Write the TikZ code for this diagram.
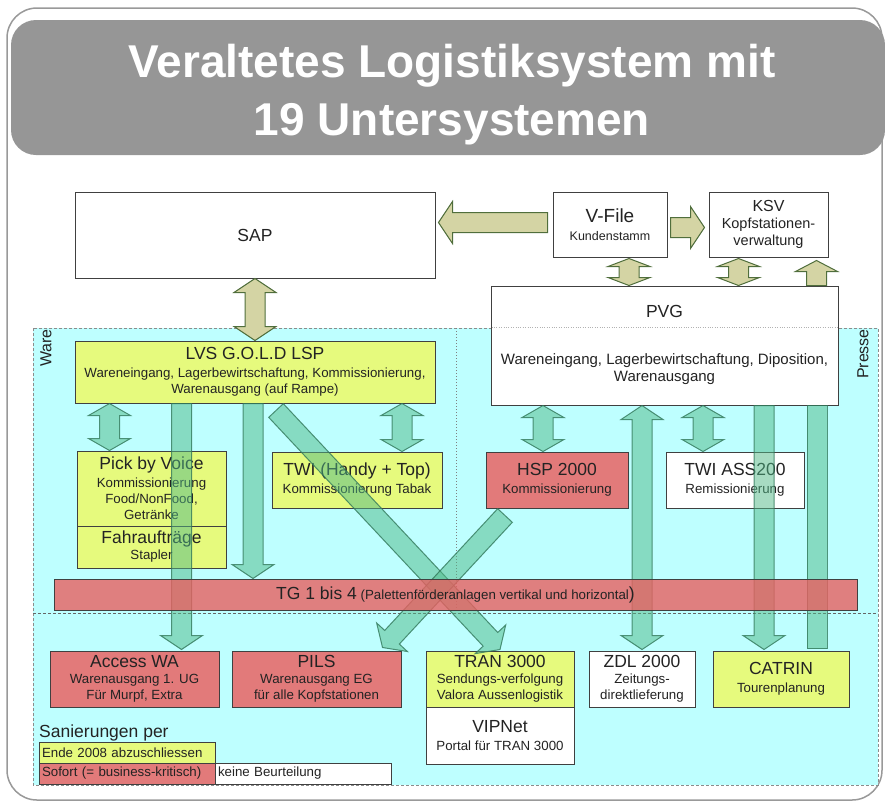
\documentclass[tikz,border=0pt]{standalone}
\usepackage{fontspec}
\setmainfont{Liberation Sans}
\usetikzlibrary{calc, positioning}

\definecolor{bgcyan}{RGB}{190,255,255}
\definecolor{boxyellow}{RGB}{230,250,125}
\definecolor{boxred}{RGB}{226,122,122}
\definecolor{tgred}{RGB}{232,95,95}
\definecolor{khakifill}{RGB}{212,212,164}
\definecolor{khakiline}{RGB}{80,110,60}
\definecolor{arrowgreen}{RGB}{80,185,135}
\definecolor{arrowline}{RGB}{50,120,90}
\definecolor{titlegray}{RGB}{150,150,150}
\definecolor{textgray}{RGB}{35,35,35}

\pgfdeclarelayer{front}
\pgfsetlayers{main,front}

\newcommand{\systitle}{\fontsize{17.5}{20}\selectfont}
\newcommand{\sysdesc}{\fontsize{13.3}{16}\selectfont}
\newcommand{\fabody}{10pt}
\newcommand{\fahead}{21pt}
\newcommand{\falen}{14pt}

\tikzstyle{sysbox} = [rectangle, draw=black!75, line width=1pt, text=textgray, align=center, font=\sysdesc, inner sep=2pt]
\tikzstyle{yellowbox} = [sysbox, fill=boxyellow]
\tikzstyle{redbox} = [sysbox, fill=boxred]
\tikzstyle{whitebox} = [sysbox, fill=white]
\tikzstyle{legendbox} = [text width=170pt, align=left, minimum height=21pt, inner sep=3pt]
\tikzstyle{arealabel} = [rotate=90, text=textgray, font=\fontsize{16}{18}\selectfont]
\tikzstyle{khakiarrow} = [fill=khakifill, draw=khakiline, line width=1pt, line join=miter]
\tikzstyle{greenarrow} = [fill=arrowgreen, fill opacity=0.5, draw=arrowline, draw opacity=0.8, line width=1pt]

% block arrows: [style]{from}{to}
\newcommand{\fatarrow}[3][khakiarrow]{%
  \coordinate (fa-a) at (#2);
  \coordinate (fa-b) at (#3);
  \coordinate (fa-c) at ($(fa-b)!\falen!(fa-a)$);
  \filldraw[#1] ($(fa-a)!\fabody!90:(fa-b)$) -- ($(fa-c)!\fabody!-90:(fa-a)$) -- ($(fa-c)!\fahead!-90:(fa-a)$) -- (fa-b)
    -- ($(fa-c)!\fahead!90:(fa-a)$) -- ($(fa-c)!\fabody!90:(fa-a)$) -- ($(fa-a)!\fabody!-90:(fa-b)$) -- cycle;
}
\newcommand{\fatdouble}[3][khakiarrow]{%
  \coordinate (fa-a) at (#2);
  \coordinate (fa-b) at (#3);
  \coordinate (fa-c) at ($(fa-a)!\falen!(fa-b)$);
  \coordinate (fa-d) at ($(fa-b)!\falen!(fa-a)$);
  \filldraw[#1] (fa-a) -- ($(fa-c)!\fahead!90:(fa-b)$) -- ($(fa-c)!\fabody!90:(fa-b)$) -- ($(fa-d)!\fabody!-90:(fa-a)$)
    -- ($(fa-d)!\fahead!-90:(fa-a)$) -- (fa-b) -- ($(fa-d)!\fahead!90:(fa-a)$) -- ($(fa-d)!\fabody!90:(fa-a)$)
    -- ($(fa-c)!\fabody!-90:(fa-b)$) -- ($(fa-c)!\fahead!-90:(fa-b)$) -- cycle;
}
\newcommand{\fatbar}[3][greenarrow]{%
  \coordinate (fa-a) at (#2);
  \coordinate (fa-b) at (#3);
  \filldraw[#1] ($(fa-a)!\fabody!90:(fa-b)$) -- ($(fa-b)!\fabody!-90:(fa-a)$) -- ($(fa-b)!\fabody!90:(fa-a)$) -- ($(fa-a)!\fabody!-90:(fa-b)$) -- cycle;
}

\begin{document}
\begin{tikzpicture}[x=1pt, y=-1pt]
    \useasboundingbox (0,0) rectangle (885,804);

    % frame and title
    \draw[black!40, line width=1.5pt, rounded corners=30pt] (7,8) rectangle (882,800);
    \node (titlebar) [fill=titlegray, rounded corners=25pt, minimum width=874pt, minimum height=135pt] at (448,87.5) {};
    \node (title) [text=white, font=\bfseries\fontsize{46}{58}\selectfont, align=center] at (452,95) {Veraltetes Logistiksystem mit\\19 Untersystemen};

    % Ware / Presse area
    \filldraw[fill=bgcyan, draw=black!45, densely dashed, line width=0.6pt] (33,328) rectangle (878,785);
    \draw[black!60, densely dashed, line width=0.8pt] (33,613) -- (878,613);
    \draw[black!50, dotted, line width=1pt] (456,328) -- (456,613);
    \node (warelabel) [arealabel] at (46,348) {Ware};
    \node (presselabel) [arealabel] at (863,354) {Presse};

    % top systems
    \node (sap) [whitebox, minimum width=360pt, minimum height=86pt] at (255,235) {{\systitle SAP}};
    \node (vfile) [whitebox, minimum width=114pt, minimum height=65pt] at (610,224.5) {{\fontsize{19}{22}\selectfont V-File}\\[2pt]{\fontsize{12.5}{14}\selectfont Kundenstamm}};
    \node (ksv) [whitebox, minimum width=119pt, minimum height=65pt, font=\fontsize{14.5}{17}\selectfont] at (768.5,224.5) {{\fontsize{16}{18}\selectfont KSV}\\ Kopfstationen-\\ verwaltung};
    \node (pvg) [whitebox, minimum width=347pt, minimum height=119pt] at (664.5,345.5) {};
    \node (pvgname) [text=textgray, font=\systitle] at ($(pvg.north)+(0,-26pt)$) {PVG};
    \node (pvgtasks) [text=textgray, align=center, font=\fontsize{15}{17}\selectfont] at ($(pvg.north)+(0,-84pt)$) {Wareneingang, Lagerbewirtschaftung, Diposition,\\ Warenausgang};
    \draw[black!30, dotted] ($(pvg.north west)+(1pt,-42pt)$) -- ($(pvg.north east)+(-1pt,-42pt)$);

    % Ware
    \node (lvs) [yellowbox, minimum width=360pt, minimum height=62pt] at (255,372) {{\systitle LVS G.O.L.D LSP}\\[2pt] Wareneingang, Lagerbewirtschaftung, Kommissionierung,\\ Warenausgang (auf Rampe)};
    \node (pbv) [yellowbox, minimum width=149pt, minimum height=75pt] at (151.5,488.5) {{\systitle Pick by Voice}\\[2pt] Kommissionierung\\ Food/NonFood,\\ Getränke};
    \node (fahr) [yellowbox, minimum width=149pt, minimum height=42pt, below=-1pt of pbv] {{\systitle Fahraufträge}\\ Stapler};
    \node (twi) [yellowbox, minimum width=170pt, minimum height=56pt] at (357,480) {{\systitle TWI (Handy + Top)}\\[2pt] Kommissionierung Tabak};

    % Presse
    \node (hsp) [redbox, minimum width=142pt, minimum height=56pt] at (557,480) {{\systitle HSP 2000}\\[2pt] Kommissionierung};
    \node (twiass) [whitebox, minimum width=138pt, minimum height=56pt] at (735,480) {{\systitle TWI ASS200}\\[2pt] Remissionierung};

    % Warenausgang
    \node (access) [redbox, minimum width=169pt, minimum height=56pt] at (134.5,679) {{\systitle Access WA}\\ Warenausgang 1. UG\\ Für Murpf, Extra};
    \node (pils) [redbox, minimum width=169pt, minimum height=56pt] at (316.5,679) {{\systitle PILS}\\ Warenausgang EG\\ für alle Kopfstationen};
    \node (tran) [yellowbox, minimum width=148pt, minimum height=56pt] at (500,679) {{\systitle TRAN 3000}\\ Sendungs-verfolgung\\ Valora Aussenlogistik};
    \node (vipnet) [whitebox, minimum width=148pt, minimum height=57pt, below=-1pt of tran] {{\systitle VIPNet}\\[2pt] Portal für TRAN 3000};
    \node (zdl) [whitebox, minimum width=106pt, minimum height=56pt] at (642,679) {{\systitle ZDL 2000}\\ Zeitungs-\\ direktlieferung};
    \node (catrin) [yellowbox, minimum width=136pt, minimum height=56pt] at (781,679) {{\systitle CATRIN}\\[2pt] Tourenplanung};

    % legend
    \node (ende) [yellowbox, legendbox] at (127,752.5) {Ende 2008 abzuschliessen};
    \node (sofort) [redbox, legendbox, below=-1pt of ende] {Sofort (= business-kritisch)};
    \node (keine) [whitebox, legendbox, right=-1pt of sofort] {keine Beurteilung};
    \node (legendtitle) [anchor=south west, inner sep=0.5pt, text=textgray, font=\systitle] at (ende.north west) {Sanierungen per};

    % TG bar in front of the arrows
    \begin{pgfonlayer}{front}
    \node (tg) [redbox, fill=tgred, fill opacity=0.8, text opacity=1, minimum width=803pt, minimum height=31pt] at (455.5,594.5) {{\systitle TG 1 bis 4} (Palettenförderanlagen vertikal und horizontal{\systitle )}};
    \end{pgfonlayer}

    % khaki arrows
    \coordinate (sapin) at (vfile.west -| sap.east);
    \fatarrow{[xshift=-5pt,yshift=2pt]vfile.west}{[xshift=3pt,yshift=2pt]sapin}
    \fatarrow{[xshift=3pt,yshift=-3pt]vfile.east}{[xshift=-4pt,yshift=-3pt]ksv.west}
    {\renewcommand{\falen}{8pt}
    \coordinate (vfdown) at ([xshift=19pt]vfile.south);
    \fatdouble{[yshift=-1pt]vfdown}{vfdown |- pvg.north}
    \coordinate (ksvdown) at ([xshift=-30pt]ksv.south);
    \fatdouble{[yshift=-1pt]ksvdown}{ksvdown |- pvg.north}
    \renewcommand{\falen}{11pt}
    \coordinate (ksvup) at ([xshift=48pt]ksv.south);
    \fatarrow{ksvup |- pvg.north}{[yshift=-3pt]ksvup}}
    \fatdouble{sap.south}{lvs.north}

    % green arrows
    {\renewcommand{\falen}{12pt}
    \coordinate (pbvup) at ([xshift=-42pt]pbv.north);
    \fatdouble[greenarrow]{pbvup |- lvs.south}{pbvup}
    \coordinate (twiup) at ([xshift=45pt]twi.north);
    \fatdouble[greenarrow]{twiup |- lvs.south}{twiup}
    \coordinate (hspup) at ([xshift=-14pt]hsp.north);
    \fatdouble[greenarrow]{hspup |- pvg.south}{hspup}
    \coordinate (twiasup) at ([xshift=-32pt]twiass.north);
    \fatdouble[greenarrow]{twiasup |- pvg.south}{twiasup}}
    \coordinate (accessin) at ([xshift=47pt]access.north);
    \fatarrow[greenarrow]{accessin |- lvs.south}{[yshift=1pt]accessin}
    \fatarrow[greenarrow]{[xshift=-2pt]lvs.south}{[xshift=-2pt]lvs.south |- tg.north}
    \fatarrow[greenarrow]{[xshift=21pt,yshift=-7pt]lvs.south}{[yshift=1pt]tran.north}
    \fatdouble[greenarrow]{zdl.north |- pvg.south}{[yshift=1pt]zdl.north}
    \coordinate (catrinin) at ([xshift=-17pt]catrin.north);
    \fatarrow[greenarrow]{catrinin |- pvg.south}{[yshift=1pt]catrinin}
    \coordinate (catrinout) at ([xshift=36pt,yshift=2pt]catrin.north);
    \fatbar{catrinout}{catrinout |- pvg.south}
    \fatarrow[greenarrow]{[xshift=-52pt,yshift=-7pt]hsp.south}{[xshift=-19pt,yshift=3pt]pils.north east}
\end{tikzpicture}
\end{document}
